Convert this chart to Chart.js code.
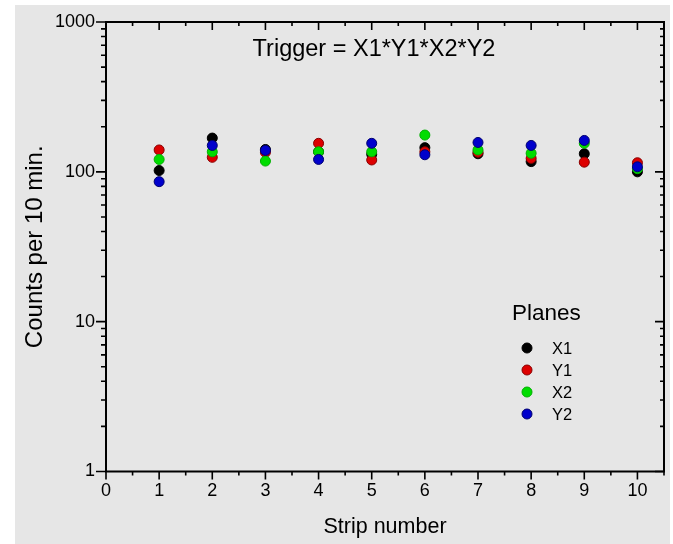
<!DOCTYPE html>
<html>
<head>
<meta charset="utf-8">
<script src="https://cdn.jsdelivr.net/npm/chart.js@4.4.1/dist/chart.umd.min.js"></script>
<style>
  html, body { margin: 0; padding: 0; background: #fff; }
  #wrap { width: 673px; height: 544px; position: relative; }
</style>
</head>
<body>
<div id="wrap"><canvas id="c" width="673" height="544"></canvas></div>
<script>
const strips = [1, 2, 3, 4, 5, 6, 7, 8, 9, 10];
const x1 = [102, 168, 141, 136, 131, 145, 132, 117, 132, 100];
const y1 = [140, 125, 135, 155, 120, 136, 135, 123, 116, 115];
const x2 = [121, 136, 118, 136, 136, 176, 140, 133, 155, 105];
const y2 = [86, 150, 139, 121, 155, 130, 157, 150, 162, 108];
const planes = ['X1', 'Y1', 'X2', 'Y2'];
const xTicks = [0, 1, 2, 3, 4, 5, 6, 7, 8, 9, 10];
const yTicks = [1, 10, 100, 1000];

const BG = '#e6e6e6', INK = '#000';
const FONT = '"Liberation Sans", Arial, sans-serif';

const pts = vals => strips.map((s, i) => ({ x: s, y: vals[i] }));
// later planes sit on top, so give them a lower order
const ds = (label, vals, fill, edge, order) => ({ label, data: pts(vals), backgroundColor: fill, borderColor: edge, borderWidth: 1, pointRadius: 5, pointHoverRadius: 5, showLine: false, order });

// grey panel with a thin white margin on the left and top
const panel = {
    id: 'panel',
    beforeDraw(chart) {
        const { ctx, width, height } = chart;
        ctx.save();
        ctx.fillStyle = '#fff';
        ctx.fillRect(0, 0, width, height);
        ctx.fillStyle = BG;
        ctx.fillRect(15, 5, width - 18, height - 5);
        ctx.restore();
    }
};

// box frame with major/minor ticks on all four sides
const frame = {
    id: 'frame',
    afterDatasetsDraw(chart) {
        const { ctx, chartArea: a, scales: { x, y } } = chart;
        ctx.save();
        ctx.strokeStyle = INK;
        ctx.lineWidth = 2;
        ctx.strokeRect(a.left, a.top, a.right - a.left, a.bottom - a.top);
        ctx.lineWidth = 1.6;
        ctx.beginPath();
        for (let v = 0; v <= 10.5; v += 0.5) {
            const px = x.getPixelForValue(v), major = v % 1 === 0;
            ctx.moveTo(px, a.bottom); ctx.lineTo(px, a.bottom + (major ? 8 : 4));
            ctx.moveTo(px, a.top); ctx.lineTo(px, a.top + (major ? 8 : 4));
        }
        for (let e = 0; e <= 3; e++) {
            for (let m = 1; m <= 9; m++) {
                const v = m * Math.pow(10, e);
                if (v > 1000) break;
                const py = y.getPixelForValue(v), major = m === 1;
                ctx.moveTo(a.left, py); ctx.lineTo(a.left - (major ? 10 : 5), py);
                ctx.moveTo(a.right, py); ctx.lineTo(a.right - (major ? 9 : 4), py);
            }
        }
        ctx.stroke();
        ctx.restore();
    }
};

// title inside the plot and the "Planes" legend
const notes = {
    id: 'notes',
    afterDraw(chart) {
        const { ctx } = chart;
        ctx.save();
        ctx.fillStyle = INK;
        ctx.textBaseline = 'middle';
        ctx.textAlign = 'center';
        ctx.font = '23.5px ' + FONT;
        ctx.fillText('Trigger = X1*Y1*X2*Y2', 374, 50);
        ctx.textAlign = 'left';
        ctx.font = '22.5px ' + FONT;
        ctx.fillText('Planes', 512, 314);
        ctx.font = '16.5px ' + FONT;
        chart.data.datasets.forEach((d, i) => {
            const yy = 348 + i * 22;
            ctx.beginPath();
            ctx.arc(527, yy, 5, 0, Math.PI * 2);
            ctx.fillStyle = d.backgroundColor;
            ctx.fill();
            ctx.strokeStyle = d.borderColor;
            ctx.lineWidth = 1;
            ctx.stroke();
            ctx.fillStyle = INK;
            ctx.fillText(planes[i], 552, yy + 1);
        });
        ctx.restore();
    }
};

new Chart(document.getElementById('c'), {
    type: 'scatter',
    data: {
        datasets: [
            ds(planes[0], x1, '#000000', '#000000', 3),
            ds(planes[1], y1, '#dd0000', '#8a0000', 2),
            ds(planes[2], x2, '#00dd00', '#00b000', 1),
            ds(planes[3], y2, '#0000cc', '#000070', 0),
        ]
    },
    plugins: [panel, frame, notes],
    options: {
        responsive: false,
        animation: false,
        layout: { padding: { left: 0, top: 22, right: 9, bottom: 0 } },
        plugins: { legend: { display: false }, tooltip: { enabled: false } },
        scales: {
            x: {
                type: 'linear', min: 0, max: 10.5,
                grid: { display: false, drawTicks: false }, border: { display: false },
                ticks: { padding: 9, color: INK, font: { family: FONT, size: 18 }, autoSkip: false },
                afterBuildTicks: s => { s.ticks = xTicks.map(v => ({ value: v })); },
                title: { display: true, text: 'Strip number', color: INK, font: { family: FONT, size: 21.5 }, padding: { top: 9 } },
                afterFit: s => { s.height = 72.5; }
            },
            y: {
                type: 'logarithmic', min: 1, max: 1000,
                grid: { display: false, drawTicks: false }, border: { display: false },
                ticks: { padding: 11, color: INK, font: { family: FONT, size: 18 }, autoSkip: false, callback: v => String(v) },
                afterBuildTicks: s => { s.ticks = yTicks.map(v => ({ value: v })); },
                title: { display: true, text: 'Counts per 10 min.', color: INK, font: { family: FONT, size: 24 }, padding: { top: 21 } },
                afterFit: s => { s.width = 106; }
            }
        }
    }
});
</script>
</body>
</html>
